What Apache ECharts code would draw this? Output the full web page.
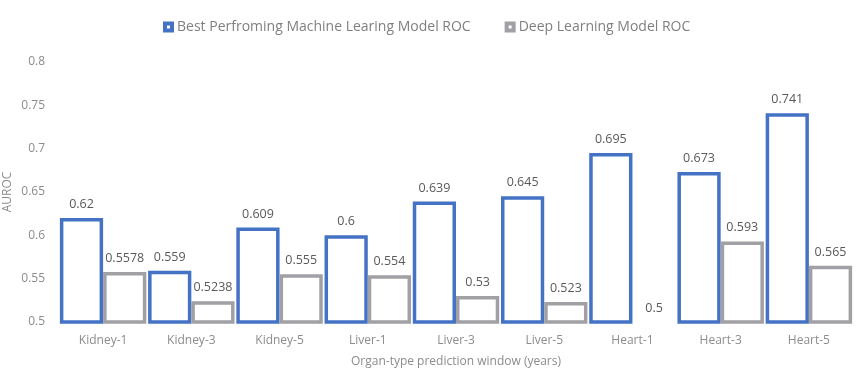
<!DOCTYPE html>
<html><head><meta charset="utf-8">
<script src="https://cdn.jsdelivr.net/npm/echarts@6/dist/echarts.min.js"></script>
<style>html,body{margin:0;padding:0;background:#fff}#c{width:865px;height:374px}</style>
</head><body><div id="c"></div>
<script>
const categories = ['Kidney-1','Kidney-3','Kidney-5','Liver-1','Liver-3','Liver-5','Heart-1','Heart-3','Heart-5'];
const mlValues = [0.62, 0.559, 0.609, 0.6, 0.639, 0.645, 0.695, 0.673, 0.741];
const dlValues = [0.5578, 0.5238, 0.555, 0.554, 0.53, 0.523, 0.5, 0.593, 0.565];
const yTicks = {min: 0.5, max: 0.8, interval: 0.05};
const seriesNames = ['Best Perfroming Machine Learing Model ROC', 'Deep Learning Model ROC'];

const BLUE = '#4472C4', GRAY = '#A0A0A5';
const FONT = '"Open Sans"';
const ICON = 'path://M0,0H11V11H0Z M4,4V7H7V4Z';
function mkData(vals){
  return vals.map(v => ({value: v, itemStyle: v <= yTicks.min ? {borderWidth: 0} : {}}));
}
const chart = echarts.init(document.getElementById('c'));
chart.setOption({
  animation: false,
  textStyle: {fontFamily: FONT},
  legend: {
    top: 15, left: 158, itemGap: 34, itemWidth: 11, itemHeight: 11,
    textStyle: {color: '#7f7f7f', fontSize: 14, fontFamily: FONT, padding: [0,0,0,-2]},
    data: [
      {name: seriesNames[0], icon: ICON, itemStyle: {color: BLUE, borderWidth: 0}},
      {name: seriesNames[1], icon: ICON, itemStyle: {color: GRAY, borderWidth: 0}}
    ]
  },
  grid: {left: 59, right: 12, top: 62, bottom: 52, outerBoundsMode: 'none', containLabel: false},
  xAxis: {
    type: 'category', data: categories,
    axisLine: {show: false}, axisTick: {show: false},
    axisLabel: {color: '#8c8c8c', fontSize: 12, margin: 13, fontFamily: FONT},
    name: 'Organ-type prediction window (years)', nameLocation: 'middle', nameGap: 34, nameMoveOverlap: false,
    nameTextStyle: {color: '#8c8c8c', fontSize: 12, fontFamily: FONT}
  },
  yAxis: {
    type: 'value', min: yTicks.min, max: yTicks.max, interval: yTicks.interval,
    axisLine: {show: false}, axisTick: {show: false}, splitLine: {show: false},
    axisLabel: {color: '#8c8c8c', fontSize: 12, margin: 14, fontFamily: FONT},
    name: 'AUROC', nameLocation: 'middle', nameGap: 45, nameMoveOverlap: false,
    nameTextStyle: {color: '#8c8c8c', fontSize: 12, fontFamily: FONT}
  },
  series: [
    {name: seriesNames[0], type: 'bar', data: mkData(mlValues), barGap: '0%', barCategoryGap: '2%',
     itemStyle: {color: '#fff', borderColor: BLUE, borderWidth: 3.5},
     label: {show: true, position: 'top', distance: 7, color: '#595959', fontSize: 12.5, fontFamily: FONT}},
    {name: seriesNames[1], type: 'bar', data: mkData(dlValues), barGap: '0%', barCategoryGap: '2%',
     itemStyle: {color: '#fff', borderColor: GRAY, borderWidth: 3.5},
     label: {show: true, position: 'top', distance: 7, color: '#595959', fontSize: 12.5, fontFamily: FONT}}
  ]
});
</script></body></html>
